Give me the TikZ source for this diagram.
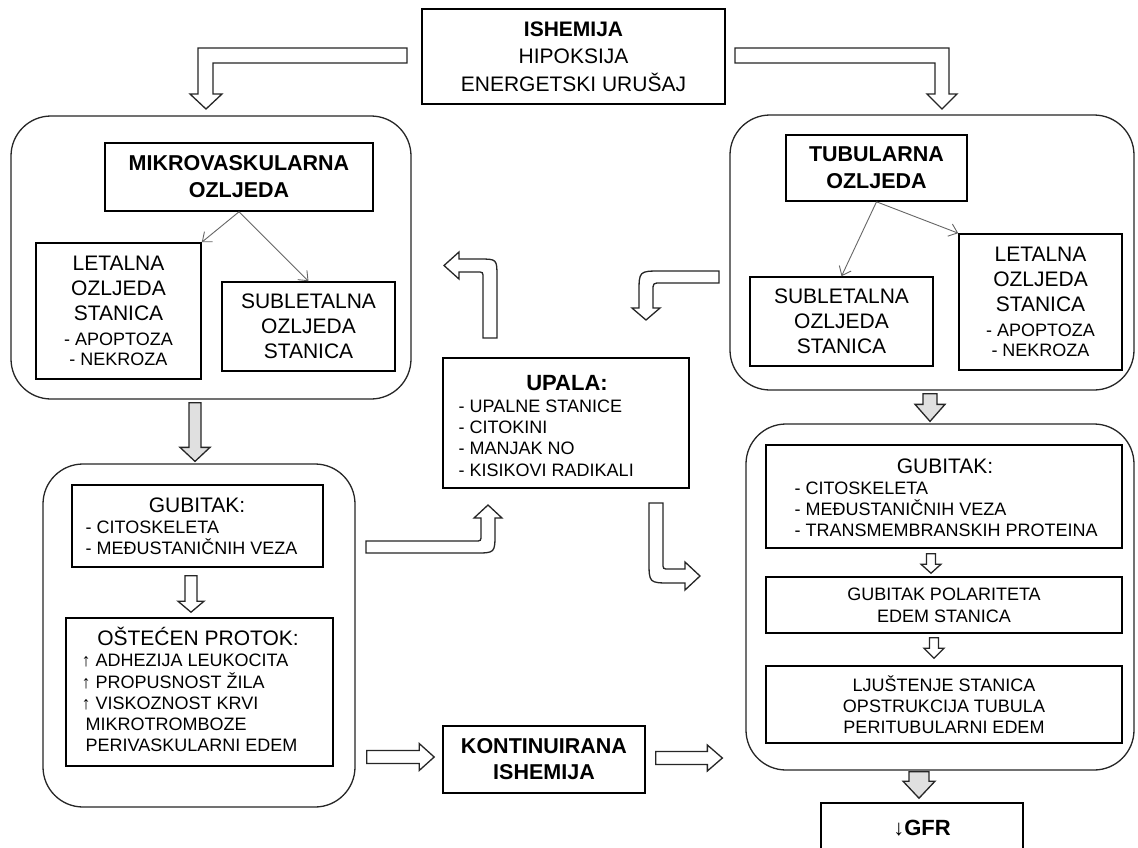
\documentclass[tikz,border=0pt]{standalone}
\usepackage{fontspec}
\setmainfont{Liberation Sans}
\usetikzlibrary{arrows.meta,calc}

\newcommand{\itemsz}{\fontsize{18}{21}\selectfont}

\tikzset{
  box/.style={draw, line width=1.6pt, align=center, inner sep=0pt, font=\fontsize{21}{25}\selectfont},
  title/.style={font=\bfseries\fontsize{21.5}{27}\selectfont},
  listtext/.style={align=left, inner sep=0pt, font=\fontsize{18}{21.2}\selectfont},
  head/.style={inner sep=0pt, anchor=base, font=\fontsize{21}{25}\selectfont},
  group/.style={draw=black!85, line width=1.3pt, rounded corners=40pt},
  thinarrow/.style={draw=black!60, line width=0.9pt, -{Straight Barb[length=8pt,width=13pt]}},
  blockarrow/.style={draw=black!85, line width=1.3pt, fill=white, line join=miter},
  vblock/.style n args={3}{blockarrow, to path={let \p1=(\tikztostart), \p2=(\tikztotarget) in
    (\x1-#1,\y1) -- (\x1+#1,\y1) -- (\x1+#1,\y2+#3) -- (\x1+#2,\y2+#3) -- (\x1,\y2)
    -- (\x1-#2,\y2+#3) -- (\x1-#1,\y2+#3) -- cycle}},
  hblock/.style n args={3}{blockarrow, to path={let \p1=(\tikztostart), \p2=(\tikztotarget) in
    (\x1,\y1+#1) -- (\x2-#3,\y1+#1) -- (\x2-#3,\y1+#2) -- (\x2,\y1)
    -- (\x2-#3,\y1-#2) -- (\x2-#3,\y1-#1) -- (\x1,\y1-#1) -- cycle}},
}

\begin{document}
\begin{tikzpicture}[x=1pt, y=-1pt]
    \path[use as bounding box, fill=white] (0,0) rectangle (1138,847);

    % the four rounded groups
    \node[group, minimum width=400pt, minimum height=283pt] (grpMV) at (211,257.5) {};
    \node[group, minimum width=404pt, minimum height=275pt] (grpTub) at (932,252.5) {};
    \node[group, minimum width=312pt, minimum height=343pt] (grpLow) at (199,635.5) {};
    \node[group, minimum width=388pt, minimum height=346pt] (grpLowR) at (940,597) {};

    \node[box, minimum width=303pt, minimum height=95pt, font=\fontsize{21}{27.5}\selectfont] (isch) at (573.5,56.5)
        {\textbf{ISHEMIJA}\\HIPOKSIJA\\ENERGETSKI URUŠAJ};

    % microvascular side
    \node[box, title, minimum width=268pt, minimum height=68pt] (mikro) at (239,177) {MIKROVASKULARNA\\OZLJEDA};
    \node[box, minimum width=165pt, minimum height=136pt] (letL) at (118.5,311)
        {LETALNA\\OZLJEDA\\STANICA\\{\itemsz - APOPTOZA}\\[-5pt]{\itemsz - NEKROZA}};
    \node[box, minimum width=173pt, minimum height=89pt] (subL) at (308.5,326.5) {SUBLETALNA\\OZLJEDA\\STANICA};
    \draw[thinarrow] (mikro.south) -- (letL.north east);
    \draw[thinarrow] (mikro.south) -- (subL.north);

    % tubular side
    \node[box, title, minimum width=181pt, minimum height=66pt] (tub) at (876.5,168) {TUBULARNA\\OZLJEDA};
    \node[box, minimum width=183pt, minimum height=89pt] (subR) at (841.5,321.5) {SUBLETALNA\\OZLJEDA\\STANICA};
    \node[box, minimum width=163pt, minimum height=136pt] (letR) at (1040.5,302)
        {LETALNA\\OZLJEDA\\STANICA\\{\itemsz - APOPTOZA}\\[-5pt]{\itemsz - NEKROZA}};
    \draw[thinarrow] (tub.south) -- (subR.north);
    \draw[thinarrow] (tub.south) -- (letR.north west);

    % inflammation
    \node[box, minimum width=246pt, minimum height=130pt] (upala) at (566,423) {};
    \node[head, font=\bfseries\fontsize{22}{26}\selectfont] (upalaT) at (567,390) {UPALA:};
    \node[listtext, anchor=west] (upalaL) at (458.5,438) {- UPALNE STANICE\\- CITOKINI\\- MANJAK NO\\- KISIKOVI RADIKALI};

    \node[box, minimum width=202pt, minimum height=67pt, font=\bfseries\fontsize{21.5}{26}\selectfont] (kont) at (544,759.5)
        {KONTINUIRANA\\ISHEMIJA};

    % lower left
    \node[box, minimum width=251pt, minimum height=82pt] (gubL) at (197.5,526) {};
    \node[head] (gubLT) at (197,512.5) {GUBITAK:};
    \node[listtext, anchor=west] (gubLL) at (85.5,537.5) {- CITOSKELETA\\- MEĐUSTANIČNIH VEZA};
    \node[box, minimum width=267pt, minimum height=148pt] (ost) at (199.5,692) {};
    \node[head] (ostT) at (198,645.5) {OŠTEĆEN PROTOK:};
    \node[listtext, anchor=west] (ostL) at (81.5,703)
        {↑ ADHEZIJA LEUKOCITA\\↑ PROPUSNOST ŽILA\\↑ VISKOZNOST KRVI\\\hspace*{4pt}MIKROTROMBOZE\\\hspace*{4pt}PERIVASKULARNI EDEM};

    % lower right
    \node[box, minimum width=356pt, minimum height=103pt] (gubR) at (944,496.5) {};
    \node[head] (gubRT) at (945,473.5) {GUBITAK:};
    \node[listtext, anchor=west] (gubRL) at (794.5,509) {- CITOSKELETA\\- MEĐUSTANIČNIH VEZA\\- TRANSMEMBRANSKIH PROTEINA};
    \node[box, minimum width=356pt, minimum height=56pt, font=\fontsize{18}{22}\selectfont] (polar) at (944,605)
        {GUBITAK POLARITETA\\EDEM STANICA};
    \node[box, minimum width=356pt, minimum height=77pt, font=\fontsize{18}{21}\selectfont] (ljus) at (944,704.5)
        {LJUŠTENJE STANICA\\OPSTRUKCIJA TUBULA\\PERITUBULARNI EDEM};
    \node[box, minimum width=202pt, minimum height=50pt, font=\fontsize{22}{26}\selectfont] (gfr) at (922,828) {↓\textbf{GFR}};

    % straight block arrows
    \draw[vblock={6pt}{15pt}{14pt}, fill=black!12] ([xshift=-16pt,yshift=-3pt]grpMV.south) to ([yshift=2pt]grpLow.north);
    \draw[vblock={7pt}{15pt}{17pt}, fill=black!12] ([xshift=-2pt,yshift=-3pt]grpTub.south) to ([yshift=2pt]grpLowR.north);
    \draw[vblock={10pt}{16pt}{17pt}, fill=black!12] ([xshift=-21pt,yshift=-1pt]grpLowR.south) to ([yshift=4pt]gfr.north);
    \draw[vblock={6pt}{13pt}{11pt}] ([xshift=-6.5pt,yshift=-8pt]gubL.south) to ([yshift=5pt]ost.north);
    \draw[vblock={4.5pt}{10pt}{9pt}] ([xshift=-13pt,yshift=-5pt]gubR.south) to ([yshift=3pt]polar.north);
    \draw[vblock={4.5pt}{10pt}{10pt}] ([xshift=-10pt,yshift=-4pt]polar.south) to ([yshift=7pt]ljus.north);
    \draw[hblock={6.5pt}{13.5pt}{15pt}] ($(grpLow.east |- kont.west)+(11,-2.5)$) to ([xshift=-8pt]kont.west);
    \draw[hblock={6.5pt}{13pt}{15pt}] ([xshift=10pt,yshift=1.5pt]kont.east) to ($(grpLowR.west |- kont.east)+(-23,0)$);

    % bent block arrows
    \draw[blockarrow] (407,48) -- (198,48) -- (198,94) -- (190,94) -- (206,109) -- (222,94) -- (213,94) -- (213,63) -- (407,63) -- cycle;
    \draw[blockarrow] (735,48) -- (949,48) -- (949,94) -- (957,94) -- (942,109) -- (927,94) -- (935,94) -- (935,63) -- (735,63) -- cycle;
    \draw[blockarrow] (483,338) -- (483,278) .. controls (483,272) .. (477,272) -- (459,272) -- (459,279) -- (444,265.5)
        -- (459,252) -- (459,259) -- (479,259) .. controls (497,259) .. (497,277) -- (497,338) -- cycle;
    \draw[blockarrow] (719,271) -- (661,271) .. controls (639,271) .. (639,293) -- (639,308) -- (632,308) -- (646,320)
        -- (660,308) -- (653,308) -- (653,291) .. controls (653,283) .. (661,283) -- (719,283) -- cycle;
    \draw[blockarrow] (366,541) -- (475,541) .. controls (481,541) .. (481,535) -- (481,518) -- (474,518) -- (488,505)
        -- (502,518) -- (495,518) -- (495,533) .. controls (495,553) .. (475,553) -- (366,553) -- cycle;
    \draw[blockarrow] (649,503) -- (663,503) -- (663,563) .. controls (663,569) .. (669,569) -- (685,569) -- (685,562)
        -- (700,576) -- (685,590) -- (685,583) -- (671,583) .. controls (649,583) .. (649,561) -- cycle;
\end{tikzpicture}
\end{document}
